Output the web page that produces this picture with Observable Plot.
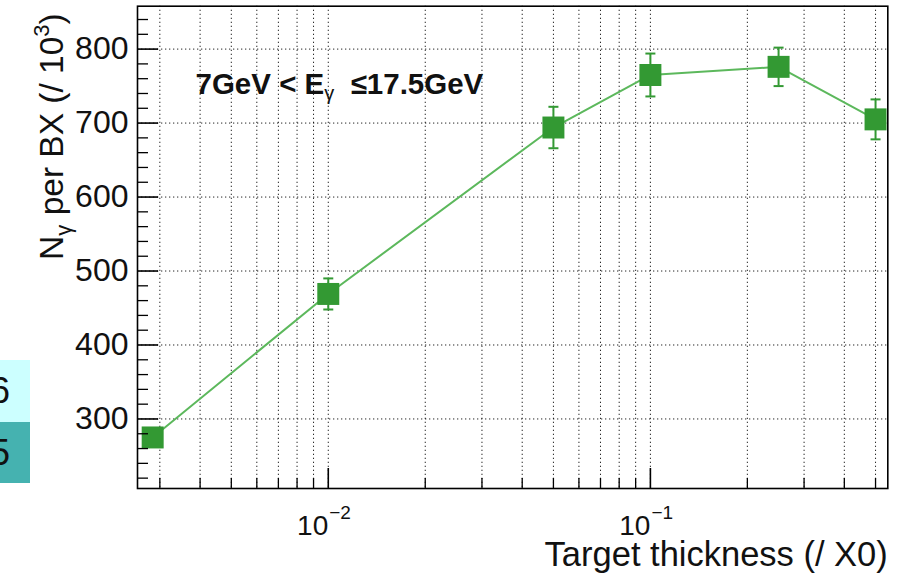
<!DOCTYPE html>
<html><head><meta charset="utf-8">
<script src="https://cdn.jsdelivr.net/npm/d3@7"></script>
<script src="https://cdn.jsdelivr.net/npm/@observablehq/plot@0.6"></script>
<style>
body{margin:0;background:#fff;}
#wrap{position:relative;width:903px;height:577px;overflow:hidden}
.art{position:absolute;left:0;width:30px;overflow:hidden;z-index:2;font-family:"Liberation Sans",Arial,sans-serif;font-size:36px;color:#111}
.art span{position:absolute;right:20px;top:50%;transform:translateY(-50%);line-height:1}
</style></head><body>
<div id="wrap"><div id="chart"></div>
<div class="art" style="top:360px;height:62px;background:#ccffff"><span>6</span></div>
<div class="art" style="top:422px;height:61px;background:#45b2b0"><span>5</span></div>
</div>
<script>
// data
const thickness = [0.00285, 0.01, 0.05, 0.1, 0.25, 0.5];
const nGamma    = [275, 469, 694, 765, 776, 705];
const nGammaErr = [12, 21, 28, 29, 26, 27];

// axis ticks / labels
const yMajorTicks = [300, 400, 500, 600, 700, 800];
const xLabelTicks = [0.01, 0.1];
const xLabelBase = ["10", "10"];
const xLabelExps = ["\u22122", "\u22121"];
const xTitle = "Target thickness (/ X0)";
const yTitleParts = [
  {text: "N"}, {text: "\u03b3", shift: 8, size: 22}, {text: " per BX (/ 10", shift: 0},
  {text: "3", shift: -14, size: 22}, {text: ")", shift: 0}
];
const annotationParts = [
  {text: "7GeV < E"}, {text: "\u03b3", shift: 6, size: 20, weight: "normal"},
  {text: "  \u226417.5GeV", shift: 0}
];

const xDomain = [0.002557, 0.5458];
const yDomain = [206, 858];

const rows = thickness.map((t, i) => ({t, n: nGamma[i], e: nGammaErr[i]}));

const yMinorTicks = d3.range(220, 860, 20).filter(v => v >= yDomain[0] && v <= yDomain[1] && !yMajorTicks.includes(v));
const xAllTicks = [];
for (const dec of [0.001, 0.01, 0.1]) for (let k = 1; k <= 9; k++) {
  const v = +(dec * k).toPrecision(6);
  if (v >= xDomain[0] && v <= xDomain[1]) xAllTicks.push(v);
}
const xMinorTicks = xAllTicks.filter(v => !xLabelTicks.includes(v));

const capSymbol = {draw(ctx) { ctx.moveTo(-5, 0); ctx.lineTo(5, 0); }};

const green = "#339933";
const font = "'Liberation Sans', Arial, Helvetica, sans-serif";
const W = 903, H = 577, mL = 137, mR = 15.7, mT = 5.7, mB = 89;
const plotW = W - mL - mR, plotH = H - mT - mB;

const chart = Plot.plot({
  width: W, height: H,
  marginLeft: mL, marginRight: mR, marginTop: mT, marginBottom: mB,
  style: {fontFamily: font, color: "#111", background: "transparent"},
  x: {type: "log", domain: xDomain},
  y: {domain: yDomain},
  marks: [
    Plot.gridX(xAllTicks, {stroke: "#000", strokeOpacity: 0.85, strokeDasharray: "1.3,2.7"}),
    Plot.gridY(yMajorTicks, {stroke: "#000", strokeOpacity: 0.85, strokeDasharray: "1.3,2.7"}),
    Plot.line(rows, {x: "t", y: "n", stroke: "#5cb85c", strokeWidth: 2}),
    Plot.ruleX(rows, {x: "t", y1: d => d.n - d.e, y2: d => d.n + d.e, stroke: green, strokeWidth: 2}),
    Plot.dot(rows, {x: "t", y: d => d.n - d.e, symbol: capSymbol, stroke: green, strokeWidth: 2, r: 5}),
    Plot.dot(rows, {x: "t", y: d => d.n + d.e, symbol: capSymbol, stroke: green, strokeWidth: 2, r: 5}),
    Plot.dot(rows, {x: "t", y: "n", symbol: "square", r: 12.4, fill: green, stroke: null}),
    // inward ticks
    Plot.tickY(yMinorTicks, {y: d => d, stroke: "#000", strokeWidth: 1.3, insetRight: plotW - 11}),
    Plot.tickY(yMajorTicks, {y: d => d, stroke: "#000", strokeWidth: 1.6, insetRight: plotW - 21}),
    Plot.tickX(xMinorTicks, {x: d => d, stroke: "#000", strokeWidth: 1.3, insetTop: plotH - 10}),
    Plot.tickX(xLabelTicks, {x: d => d, stroke: "#000", strokeWidth: 1.6, insetTop: plotH - 20}),
    Plot.frame({stroke: "#000", strokeWidth: 1.6}),
    Plot.axisY(yMajorTicks, {tickSize: 0, tickPadding: 9, fontSize: 32, label: null, fill: "#111"}),
    Plot.axisX([], {tickSize: 0, label: null}),
    Plot.text(xLabelTicks, {x: d => d, text: (d, i) => xLabelBase[i], frameAnchor: "bottom", textAnchor: "end", lineAnchor: "bottom", dy: 46, fontSize: 28, fill: "#111"}),
    Plot.text(xLabelTicks, {x: d => d, text: (d, i) => xLabelExps[i], frameAnchor: "bottom", textAnchor: "start", lineAnchor: "bottom", dx: 1, dy: 30, fontSize: 19, fill: "#111"}),
    Plot.text([xTitle], {text: d => d, frameAnchor: "bottom-right", textAnchor: "end", lineAnchor: "bottom", dy: 77, fontSize: 34.5, fill: "#111"}),
    Plot.text(["__ytitle__"], {text: d => d, frameAnchor: "left", textAnchor: "middle", lineAnchor: "bottom", rotate: -90, dx: -75, dy: -110.8, fontSize: 33.5, fill: "#111"}),
    Plot.text(["__annot__"], {text: d => d, frameAnchor: "top-left", textAnchor: "start", lineAnchor: "bottom", dx: 58, dy: 87.5, fontSize: 29.5, fontWeight: "bold", fill: "#111"})
  ]
});
document.getElementById("chart").appendChild(chart);

function richText(svg, key, parts) {
  const t = Array.from(svg.querySelectorAll("text")).find(e => e.textContent === key);
  if (!t) return;
  t.textContent = "";
  t.setAttribute("style", "white-space:pre");
  let cur = 0;
  for (const p of parts) {
    const ts = document.createElementNS("http://www.w3.org/2000/svg", "tspan");
    ts.textContent = p.text;
    const shift = p.shift || 0;
    if (shift !== cur) ts.setAttribute("dy", shift - cur);
    cur = shift;
    if (p.size) ts.setAttribute("font-size", p.size);
    if (p.weight) ts.setAttribute("font-weight", p.weight);
    t.appendChild(ts);
  }
}
richText(chart, "__ytitle__", yTitleParts);
richText(chart, "__annot__", annotationParts);
</script>
</body></html>
